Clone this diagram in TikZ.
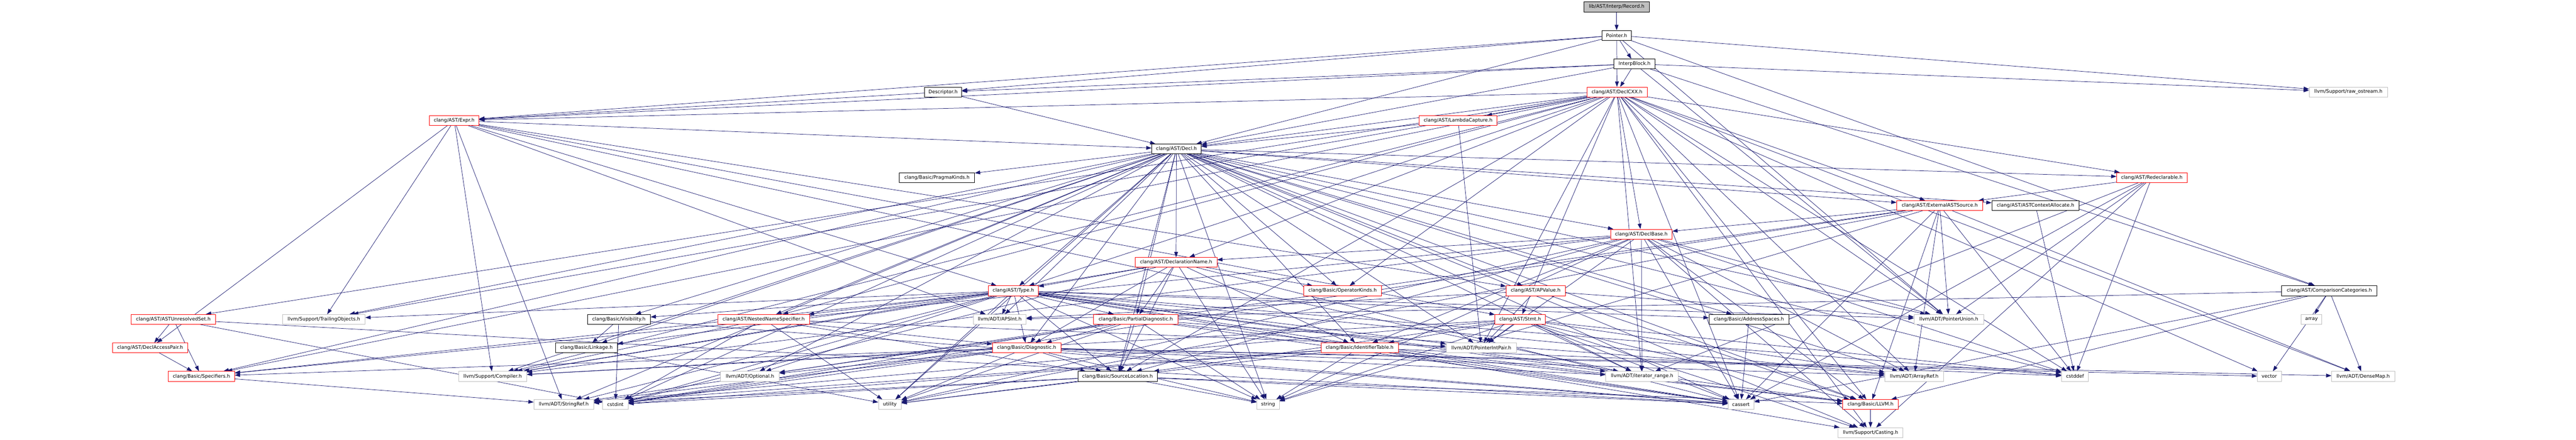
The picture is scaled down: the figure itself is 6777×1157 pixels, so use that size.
\documentclass[tikz,border=0pt]{standalone}
\usepackage{fontspec}
\newfontfamily\dejavu{DejaVu Sans}
\usetikzlibrary{arrows.meta,backgrounds}
\definecolor{midblue}{RGB}{25,25,112}
\definecolor{grayline}{RGB}{191,191,191}
\definecolor{rootfill}{RGB}{191,191,191}
\definecolor{redline}{RGB}{255,0,0}
\tikzset{
  nd/.style={draw, rectangle, fill=white, text=black, minimum height=19.5pt,
    inner sep=0pt, line width=0.75pt, font=\dejavu\fontsize{9.5}{11}\selectfont},
  wd/.style={minimum width=#1*0.75pt},
  rednd/.style={nd, draw=redline},
  blknd/.style={nd, draw=black},
  grynd/.style={nd, draw=grayline},
  rootnd/.style={nd, draw=black, fill=rootfill},
  edge/.style={draw=midblue, line width=0.75pt,
    -{Triangle[length=10.5pt,width=7.5pt]}}
}
\begin{document}
\begin{tikzpicture}[x=0.75pt,y=-0.75pt]
\useasboundingbox (0,0) rectangle (6777,1157);
% row 0..3
\node[rootnd,wd=171] (rec) at (4253,18) {lib/AST/Interp/Record.h};
\node[blknd,wd=78] (ptr) at (4253,93) {Pointer.h};
\node[blknd,wd=109] (blk) at (4300,168) {InterpBlock.h};
\node[blknd,wd=98] (desc) at (2481,242) {Descriptor.h};
\node[rednd,wd=158] (dcxx) at (4254,242) {clang/AST/DeclCXX.h};
\node[grynd,wd=206] (ros) at (6178,242) {llvm/Support/raw\_ostream.h};
% row 4..9
\node[rednd,wd=130] (expr) at (1195,317) {clang/AST/Expr.h};
\node[rednd,wd=205] (lam) at (3836,317) {clang/AST/LambdaCapture.h};
\node[blknd,wd=130] (decl) at (3095,392) {clang/AST/Decl.h};
\node[blknd,wd=198] (prag) at (2465,467) {clang/Basic/PragmaKinds.h};
\node[rednd,wd=185] (redecl) at (5661,467) {clang/AST/Redeclarable.h};
\node[rednd,wd=226] (ext) at (5103,541) {clang/AST/ExternalASTSource.h};
\node[blknd,wd=230] (alloc) at (5355,541) {clang/AST/ASTContextAllocate.h};
\node[rednd,wd=162] (dbase) at (4318,616) {clang/AST/DeclBase.h};
\node[rednd,wd=215] (dname) at (3094,690) {clang/AST/DeclarationName.h};
% row 765
\node[rednd,wd=131] (type) at (2666,765) {clang/AST/Type.h};
\node[rednd,wd=205] (opk) at (3532,765) {clang/Basic/OperatorKinds.h};
\node[rednd,wd=155] (apv) at (4040,765) {clang/AST/APValue.h};
\node[blknd,wd=251] (cmp) at (6128,765) {clang/AST/ComparisonCategories.h};
% row 840
\node[rednd,wd=223] (aus) at (456,840) {clang/AST/ASTUnresolvedSet.h};
\node[grynd,wd=217] (trail) at (852,840) {llvm/Support/TrailingObjects.h};
\node[blknd,wd=166] (vis) at (1628,840) {clang/Basic/Visibility.h};
\node[rednd,wd=242] (nns) at (2009,840) {clang/AST/NestedNameSpecifier.h};
\node[grynd,wd=139] (apsint) at (2630,840) {llvm/ADT/APSInt.h};
\node[rednd,wd=222] (pdiag) at (2988,840) {clang/Basic/PartialDiagnostic.h};
\node[rednd,wd=132] (stmt) at (3999,840) {clang/AST/Stmt.h};
\node[blknd,wd=210] (addr) at (4601,840) {clang/Basic/AddressSpaces.h};
\node[grynd,wd=183] (punion) at (5127,840) {llvm/ADT/PointerUnion.h};
\node[grynd,wd=55] (array) at (6081,840) {array};
% row 915
\node[rednd,wd=199] (dap) at (395,915) {clang/AST/DeclAccessPair.h};
\node[blknd,wd=162] (link) at (1543,915) {clang/Basic/Linkage.h};
\node[rednd,wd=180] (diag) at (2701,915) {clang/Basic/Diagnostic.h};
\node[rednd,wd=203] (ident) at (3577,915) {clang/Basic/IdentifierTable.h};
\node[grynd,wd=185] (pip) at (3897,915) {llvm/ADT/PointerIntPair.h};
% row 990
\node[rednd,wd=174] (spec) at (530,990) {clang/Basic/Specifiers.h};
\node[grynd,wd=179] (comp) at (1296,990) {llvm/Support/Compiler.h};
\node[grynd,wd=154] (opt) at (1973,990) {llvm/ADT/Optional.h};
\node[blknd,wd=209] (sloc) at (2940,990) {clang/Basic/SourceLocation.h};
\node[grynd,wd=191] (itr) at (4320,990) {llvm/ADT/iterator\_range.h};
\node[grynd,wd=155] (aref) at (5036,990) {llvm/ADT/ArrayRef.h};
\node[grynd,wd=71] (cstddef) at (5459,990) {cstddef};
\node[grynd,wd=63] (vector) at (5970,990) {vector};
\node[grynd,wd=166] (dmap) at (6217,990) {llvm/ADT/DenseMap.h};
% row 1064
\node[grynd,wd=157] (sref) at (1483,1064) {llvm/ADT/StringRef.h};
\node[grynd,wd=67] (cstdint) at (1619,1064) {cstdint};
\node[grynd,wd=60] (utility) at (2341,1064) {utility};
\node[grynd,wd=59] (string) at (3336,1064) {string};
\node[grynd,wd=68] (cassert) at (4580,1064) {cassert};
\node[rednd,wd=146] (llvm) at (4921,1064) {clang/Basic/LLVM.h};
% row 1138
\node[grynd,wd=171] (cast) at (4921,1138) {llvm/Support/Casting.h};

\begin{scope}[on background layer]
\fill[white] (0,0) rectangle (6777,1157);
\draw[edge] (rec) -- (ptr);
\foreach \t in {desc,blk,cmp,decl,dcxx,expr,punion,ros} \draw[edge] (ptr) -- (\t);
\foreach \t in {desc,decl,dcxx,expr,cmp,punion,ros} \draw[edge] (blk) -- (\t);
\foreach \t in {decl,expr} \draw[edge] (desc) -- (\t);
\foreach \t in {aus,decl,dbase,dname,expr,ext,lam,nns,redecl,stmt,type,llvm,opk,sloc,spec,aref,dmap,pip,punion,itr,cast,comp,trail,cassert,cstddef,vector} \draw[edge] (dcxx) -- (\t);
\foreach \t in {apv,decl,dap,stmt,type,apsint,sref,itr,comp,trail} \draw[edge] (expr) -- (\t);
\foreach \t in {decl,pip} \draw[edge] (lam) -- (\t);
\foreach \t in {apv,alloc,dbase,dname,ext,nns,redecl,type,addr,diag,ident,llvm,link,opk,pdiag,prag,sloc,spec,vis,apsint,aref,opt,pip,punion,sref,itr,cast,comp,trail,cassert,cstddef,cstdint,string,utility} \draw[edge] (decl) -- (\t);
\foreach \t in {ext,punion,itr,cast,cassert,cstddef} \draw[edge] (redecl) -- (\t);
\foreach \t in {dbase,llvm,aref,dmap,opt,punion,cassert,cstddef,cstdint,string,utility} \draw[edge] (ext) -- (\t);
\draw[edge] (alloc) -- (cstddef);
\foreach \t in {dname,ident,llvm,sloc,spec,aref,pip,punion,itr,cast,comp,cassert,cstddef,string,utility} \draw[edge] (dbase) -- (\t);
\foreach \t in {type,diag,ident,opk,pdiag,sloc,comp,cassert,cstdint,string} \draw[edge] (dname) -- (\t);
\foreach \t in {nns,addr,diag,llvm,link,pdiag,sloc,spec,vis,apsint,aref,opt,pip,punion,sref,itr,cast,comp,trail,cassert,cstddef,cstdint,string,utility} \draw[edge] (type) -- (\t);
\foreach \t in {llvm,apsint,pip,punion} \draw[edge] (apv) -- (\t);
\foreach \t in {llvm,apsint,dmap,array,cassert,vector} \draw[edge] (cmp) -- (\t);
\foreach \t in {ident,llvm,sloc,aref,pip,sref,itr,cast,comp,cassert,cstddef,string} \draw[edge] (stmt) -- (\t);
\foreach \t in {diag,sloc,pip,comp,cstdint,utility} \draw[edge] (nns) -- (\t);
\foreach \t in {diag,llvm,sloc,aref,sref,cassert,cstdint,string,utility} \draw[edge] (pdiag) -- (\t);
\foreach \t in {sloc,spec,aref,dmap,opt,sref,itr,comp,cassert,cstdint,string,utility,vector} \draw[edge] (diag) -- (\t);
\foreach \t in {llvm,sref,cassert,cstdint,string,utility} \draw[edge] (sloc) -- (\t);
\foreach \t in {llvm,sref,cassert,cstddef,cstdint,string,utility} \draw[edge] (ident) -- (\t);
\draw[edge] (llvm) -- (cast);
\draw[edge] (spec) -- (sref);
\draw[edge] (dap) -- (spec);
\foreach \t in {dap,spec,cassert,cstdint} \draw[edge] (aus) -- (\t);
\foreach \t in {link,cassert,cstdint} \draw[edge] (vis) -- (\t);
\draw[edge] (link) -- (utility);
\draw[edge] (addr) -- (cassert);
\end{scope}
\end{tikzpicture}
\end{document}
